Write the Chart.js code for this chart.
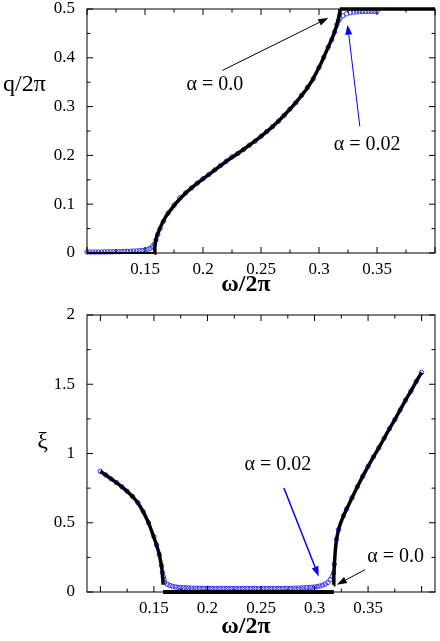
<!DOCTYPE html>
<html><head><meta charset="utf-8">
<script src="https://cdn.jsdelivr.net/npm/chart.js@4.4.1/dist/chart.umd.min.js"></script>
<style>
html,body{margin:0;padding:0;background:#fff;}
#wrap{position:relative;width:440px;height:641px;overflow:hidden;}
canvas{position:absolute;left:0;}
#c1{top:0;} #c2{top:300px;}
</style></head><body>
<div id="wrap"><canvas id="c1" width="440" height="300"></canvas><canvas id="c2" width="440" height="341"></canvas></div>
<script>
// ---------- tick values ----------
const omegaTickLabels = [0.15, 0.2, 0.25, 0.3, 0.35];
const omegaMajor = [0.1, 0.15, 0.2, 0.25, 0.3, 0.35, 0.4];
const omegaMinor = [0.125, 0.175, 0.225, 0.275, 0.325, 0.375];
const qTickLabels = [0, 0.1, 0.2, 0.3, 0.4, 0.5];
const qMinor = [0.05, 0.15, 0.25, 0.35, 0.45];
const xiTickLabels = [0, 0.5, 1, 1.5, 2];
const xiMinor = [0.25, 0.75, 1.25, 1.75];

// ---------- top panel: q/2pi, alpha = 0.0 (black) ----------
const qA0zero = [[0.1, 0], [0.158, 0]];
const qA0curve = [[0.158,0],[0.1585,0.012],[0.159,0.022],[0.16,0.033],[0.162,0.046],[0.165,0.062],[0.168,0.075],
  [0.172,0.088],[0.177,0.103],[0.185,0.123],[0.193,0.139],[0.2,0.152],[0.207,0.164],[0.214,0.177],[0.222,0.191],
  [0.23,0.204],[0.2424,0.225],[0.25,0.239],[0.258,0.255],[0.265,0.27],[0.271,0.285],[0.277,0.3],[0.283,0.317],
  [0.289,0.335],[0.294,0.353],[0.298,0.371],[0.302,0.39],[0.305,0.406],[0.308,0.422],[0.311,0.438],[0.313,0.45],
  [0.315,0.464],[0.3165,0.477],[0.3175,0.489],[0.318,0.5]];
const qA0top = [[0.318, 0.5], [0.4, 0.5]];
// ---------- top panel: alpha = 0.02 (blue circles) ----------
const qA02 = [[0.1,0.002],[0.1025,0.002],[0.105,0.002],[0.1075,0.002],[0.11,0.002],[0.1125,0.002],[0.115,0.0022],
  [0.1175,0.0023],[0.12,0.0024],[0.1225,0.0025],[0.125,0.0026],[0.1275,0.0028],[0.13,0.003],[0.1325,0.0032],
  [0.135,0.0034],[0.1375,0.0036],[0.14,0.0039],[0.1425,0.0042],[0.145,0.0046],[0.1475,0.0052],[0.15,0.006],
  [0.1525,0.0075],[0.1545,0.0095],[0.1565,0.0135],[0.158,0.018],[0.1595,0.027],[0.161,0.038],[0.163,0.05],
  [0.166,0.065],[0.17,0.082],[0.175,0.098],[0.18,0.113],[0.185,0.123],[0.19,0.133],[0.195,0.143],[0.2,0.152],
  [0.205,0.161],[0.21,0.17],[0.215,0.179],[0.22,0.188],[0.225,0.197],[0.23,0.204],[0.235,0.212],[0.24,0.221],
  [0.245,0.229],[0.25,0.239],[0.255,0.249],[0.26,0.259],[0.265,0.27],[0.27,0.282],[0.275,0.295],[0.28,0.308],
  [0.285,0.323],[0.29,0.339],[0.295,0.357],[0.3,0.38],[0.304,0.401],[0.308,0.422],[0.311,0.437],[0.3135,0.453],
  [0.3155,0.468],[0.3168,0.476],[0.318,0.481],[0.3205,0.486],[0.3238,0.49],[0.327,0.4925],[0.33,0.4935],
  [0.3325,0.494],[0.335,0.4945],[0.3375,0.4948],[0.34,0.495],[0.3425,0.495],[0.345,0.4952],[0.3475,0.4952],[0.35,0.4952]];

// ---------- bottom panel: xi, alpha = 0.0 (black) ----------
const xiA0left = [[0.1,0.871],[0.105,0.845],[0.11,0.817],[0.115,0.79],[0.12,0.76],[0.125,0.727],[0.13,0.69],
  [0.135,0.645],[0.14,0.58],[0.145,0.5],[0.1485,0.426],[0.152,0.35],[0.1547,0.282],[0.1572,0.185],[0.1584,0.089],[0.1586,0.053]];
const xiA0zero = [[0.1586, 0], [0.318, 0]];
const xiA0right = [[0.3178,0.053],[0.318,0.12],[0.3185,0.2],[0.3194,0.3],[0.3205,0.38],[0.3224,0.45],[0.324,0.49],
  [0.327,0.55],[0.33,0.6],[0.335,0.68],[0.34,0.76],[0.345,0.835],[0.35,0.907],[0.355,0.975],[0.36,1.04],[0.365,1.11],
  [0.37,1.18],[0.375,1.245],[0.38,1.315],[0.385,1.385],[0.39,1.45],[0.395,1.52],[0.4,1.585]];
// ---------- bottom panel: alpha = 0.02 (blue circles) ----------
const xiA02 = [[0.1,0.871],[0.105,0.845],[0.11,0.817],[0.115,0.79],[0.12,0.76],[0.125,0.727],[0.13,0.69],[0.135,0.645],
  [0.14,0.58],[0.145,0.5],[0.15,0.4],[0.1525,0.34],[0.155,0.27],[0.157,0.19],[0.158,0.14],[0.1588,0.11],
  [0.1595,0.09],[0.16,0.069],[0.1625,0.056],[0.165,0.047],[0.1675,0.041],[0.17,0.037],[0.1725,0.034],[0.175,0.032],
  [0.1775,0.031],[0.18,0.03],[0.1825,0.029],[0.185,0.028],[0.1875,0.028],[0.19,0.027],[0.1925,0.027],[0.195,0.026],
  [0.1975,0.026],[0.2,0.026],[0.2025,0.025],[0.205,0.025],[0.2075,0.025],[0.21,0.025],[0.2125,0.025],[0.215,0.025],
  [0.2175,0.025],[0.22,0.025],[0.2225,0.025],[0.225,0.025],[0.2275,0.025],[0.23,0.025],[0.2325,0.025],[0.235,0.025],
  [0.2375,0.025],[0.24,0.025],[0.2425,0.025],[0.245,0.025],[0.2475,0.025],[0.25,0.025],[0.2525,0.025],[0.255,0.025],
  [0.2575,0.025],[0.26,0.025],[0.2625,0.025],[0.265,0.025],[0.2675,0.025],[0.27,0.025],[0.2725,0.026],[0.275,0.026],
  [0.2775,0.026],[0.28,0.027],[0.2825,0.027],[0.285,0.028],[0.2875,0.029],[0.29,0.03],[0.2925,0.031],[0.295,0.032],
  [0.2975,0.034],[0.3,0.036],[0.3025,0.039],[0.305,0.043],[0.3075,0.049],[0.31,0.057],[0.3125,0.069],[0.3147,0.089],
  [0.3165,0.112],[0.3178,0.137],[0.3185,0.2],[0.3205,0.38],[0.3224,0.45],[0.327,0.55],[0.33,0.6],[0.335,0.68],
  [0.34,0.76],[0.345,0.835],[0.35,0.907],[0.355,0.975],[0.36,1.04],[0.365,1.11],[0.37,1.18],[0.375,1.245],
  [0.38,1.315],[0.385,1.385],[0.39,1.45],[0.395,1.52],[0.4,1.585]];

// ---------- annotations (data coordinates) ----------
const qNotes = [
  {text:'α = 0.0', tx:0.2103, ty:0.345, from:[0.2166,0.374], to:[0.308,0.4816], color:'#000', w:1},
  {text:'α = 0.02', tx:0.3415, ty:0.222, from:[0.3352,0.2594], to:[0.3246,0.4678], color:'#0000ff', w:1}
];
const xiNotes = [
  {text:'α = 0.02', tx:0.2658, ty:0.9155, from:[0.2714,0.751], to:[0.3039,0.1126], color:'#0000ff', w:1.5},
  {text:'α = 0.0', tx:0.3758, ty:0.258, from:[0.3472,0.161], to:[0.3208,0.0527], color:'#000', w:1}
];

const FONT = "'Liberation Serif','Times New Roman',serif";
const toXY = arr => arr.map(p => ({x:p[0], y:p[1]}));

function drawArrow(ctx, x1, y1, x2, y2, color, w) {
  const ang = Math.atan2(y2 - y1, x2 - x1);
  const hl = 10, hw = 3.5;
  const bx = x2 - hl * Math.cos(ang), by = y2 - hl * Math.sin(ang);
  ctx.strokeStyle = color; ctx.fillStyle = color; ctx.lineWidth = w;
  ctx.beginPath(); ctx.moveTo(x1, y1); ctx.lineTo(bx, by); ctx.stroke();
  ctx.beginPath();
  ctx.moveTo(x2, y2);
  ctx.lineTo(bx + hw * Math.sin(ang), by - hw * Math.cos(ang));
  ctx.lineTo(bx - hw * Math.sin(ang), by + hw * Math.cos(ang));
  ctx.closePath(); ctx.fill();
}

const framePlugin = {
  id: 'frame',
  afterDatasetsDraw(chart, args, o) {
    const {ctx, chartArea: a} = chart;
    const xs = chart.scales.x, ys = chart.scales.y;
    ctx.save();
    ctx.strokeStyle = '#000'; ctx.lineWidth = 1;
    ctx.strokeRect(a.left, a.top, a.right - a.left, a.bottom - a.top);
    const seg = (x1, y1, x2, y2) => { ctx.beginPath(); ctx.moveTo(x1, y1); ctx.lineTo(x2, y2); ctx.stroke(); };
    const xt = (v, L) => { const p = xs.getPixelForValue(v); seg(p, a.bottom, p, a.bottom - L); seg(p, a.top, p, a.top + L); };
    const yt = (v, L) => { const p = ys.getPixelForValue(v); seg(a.left, p, a.left + L, p); seg(a.right, p, a.right - L, p); };
    o.xMajor.forEach(v => xt(v, 6)); o.xMinor.forEach(v => xt(v, 3.5));
    o.yMajor.forEach(v => yt(v, 6)); o.yMinor.forEach(v => yt(v, 3.5));
    // annotations
    o.notes.forEach(n => {
      drawArrow(ctx, xs.getPixelForValue(n.from[0]), ys.getPixelForValue(n.from[1]),
        xs.getPixelForValue(n.to[0]), ys.getPixelForValue(n.to[1]), n.color, n.w);
      ctx.fillStyle = '#000'; ctx.font = '20px ' + FONT;
      ctx.textAlign = 'center'; ctx.textBaseline = 'middle';
      ctx.fillText(n.text, xs.getPixelForValue(n.tx), ys.getPixelForValue(n.ty));
    });
    // axis titles
    ctx.fillStyle = '#000'; ctx.textAlign = 'center'; ctx.textBaseline = 'middle';
    ctx.font = 'bold 24px ' + FONT;
    ctx.fillText('ω/2π', o.xTitle[0], o.xTitle[1]);
    ctx.font = o.yTitleFont + ' ' + FONT;
    ctx.fillText(o.yTitle, o.yTitlePos[0], o.yTitlePos[1]);
    ctx.restore();
  }
};

function makeChart(id, cfg) {
  const tickFont = {family: FONT, size: 17};
  return new Chart(document.getElementById(id), {
    type: 'scatter',
    data: {datasets: cfg.datasets},
    options: {
      responsive: false, animation: false, devicePixelRatio: 1,
      layout: {padding: {top: cfg.padTop, right: 3, left: 0, bottom: 0}},
      plugins: {legend: {display: false}, tooltip: {enabled: false}, frame: cfg.frame},
      scales: {
        x: {
          type: 'linear', min: cfg.xMin, max: cfg.xMax,
          afterBuildTicks: s => { s.ticks = omegaTickLabels.map(v => ({value: v})); },
          ticks: {font: tickFont, color: '#000', padding: -2, maxRotation: 0, autoSkip: false, callback: v => String(v)},
          grid: {display: false}, border: {display: false},
          afterFit: s => { s.height = cfg.xHeight; s.paddingLeft = 0; s.paddingRight = 0; }
        },
        y: {
          type: 'linear', min: cfg.yMin, max: cfg.yMax,
          afterBuildTicks: s => { s.ticks = cfg.yTicks.map(v => ({value: v})); },
          ticks: {font: tickFont, color: '#000', padding: 4, autoSkip: false, callback: v => String(v)},
          grid: {display: false}, border: {display: false},
          afterFit: s => { s.width = 87; s.paddingTop = 0; s.paddingBottom = 0; }
        }
      }
    },
    plugins: [framePlugin]
  });
}

const blueStyle = {showLine: false, pointRadius: 2.2, pointStyle: 'circle', pointBorderColor: '#3030ff',
  pointBackgroundColor: 'rgba(255,255,255,0)', pointBorderWidth: 1, order: 2, clip: 6};
const blackLine = w => ({showLine: true, pointRadius: 0, borderColor: '#000', borderWidth: w, order: 1, clip: 6, tension: 0});

makeChart('c1', {
  padTop: 9, xHeight: 47, xMin: 0.1, xMax: 0.4, yMin: 0, yMax: 0.5, yTicks: qTickLabels,
  datasets: [
    Object.assign({data: toXY(qA0zero)}, blackLine(2)),
    Object.assign({data: toXY(qA0curve)}, blackLine(3.5)),
    Object.assign({data: toXY(qA0top)}, blackLine(3.5)),
    Object.assign({data: toXY(qA02)}, blueStyle)
  ],
  frame: {xMajor: omegaMajor, xMinor: omegaMinor, yMajor: qTickLabels, yMinor: qMinor, notes: qNotes,
    xTitle: [246, 285], yTitle: 'q/2π', yTitleFont: '24px', yTitlePos: [24.5, 85]}
});

makeChart('c2', {
  padTop: 15, xHeight: 49, xMin: 0.0875, xMax: 0.4125, yMin: 0, yMax: 2, yTicks: xiTickLabels,
  datasets: [
    Object.assign({data: toXY(xiA0left)}, blackLine(3.5)),
    Object.assign({data: toXY(xiA0zero)}, blackLine(4)),
    Object.assign({data: toXY(xiA0right)}, blackLine(3.5)),
    Object.assign({data: toXY(xiA02)}, blueStyle)
  ],
  frame: {xMajor: omegaMajor, xMinor: omegaMinor, yMajor: xiTickLabels, yMinor: xiMinor, notes: xiNotes,
    xTitle: [246, 327], yTitle: 'ξ', yTitleFont: '24px', yTitlePos: [42.5, 142]}
});
</script>
</body></html>
